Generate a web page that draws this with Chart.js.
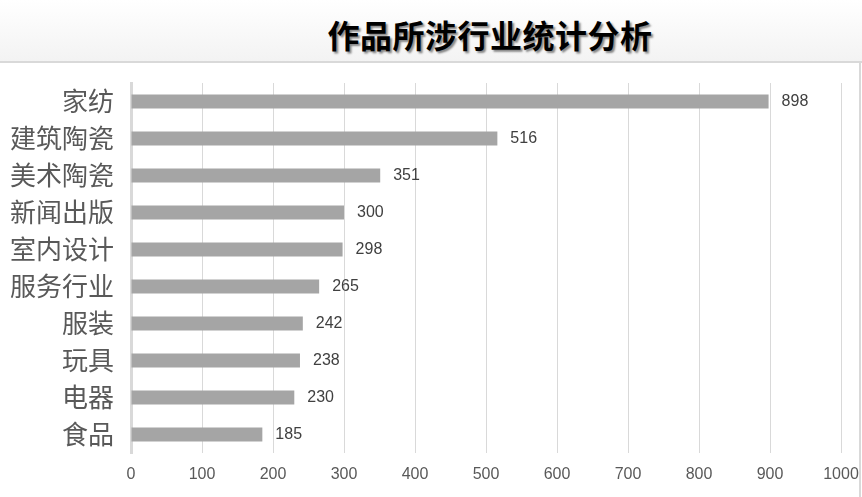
<!DOCTYPE html>
<html>
<head>
<meta charset="utf-8">
<script src="https://cdn.jsdelivr.net/npm/chart.js@4/dist/chart.umd.min.js"></script>
<style>
  html, body { margin: 0; padding: 0; background: #fff; }
  #wrap { position: relative; width: 862px; height: 497px; overflow: hidden; }
  #head {
    position: absolute; left: 0; top: 0; width: 862px; height: 61px;
    background: linear-gradient(#ffffff, #f3f3f3);
    border-bottom: 2px solid #d9d9d9;
  }
  #head h1 {
    margin: 0; position: absolute; left: 322px; top: 10px; width: 336px;
    font: 700 32px "Noto Sans CJK SC", sans-serif; color: #000;
    text-align: center; line-height: 48px; letter-spacing: 0.5px;
    text-shadow: 2px 2px 2px rgba(0,0,0,0.45);
  }
  #side { position: absolute; left: 859px; top: 62px; width: 2px; height: 435px; background: #d9d9d9; }
  #box { position: absolute; left: 0; top: 63px; width: 862px; height: 434px; }
</style>
</head>
<body>
<div id="wrap">
  <div id="head"><h1>作品所涉行业统计分析</h1></div>
  <div id="side"></div>
  <div id="box"><canvas id="chart"></canvas></div>
</div>
<script>
  let categories = ['家纺', '建筑陶瓷', '美术陶瓷', '新闻出版', '室内设计', '服务行业', '服装', '玩具', '电器', '食品'];
  let counts = [898, 516, 351, 300, 298, 265, 242, 238, 230, 185];
  let xTicks = [0, 100, 200, 300, 400, 500, 600, 700, 800, 900, 1000];

  // value labels at the end of each bar
  let valueLabels = {
    id: 'valueLabels',
    afterDatasetsDraw(chart) {
      let ctx = chart.ctx;
      let meta = chart.getDatasetMeta(0);
      ctx.save();
      ctx.font = '16px "Liberation Sans", Arial, sans-serif';
      ctx.fillStyle = '#404040';
      ctx.textAlign = 'left';
      ctx.textBaseline = 'middle';
      meta.data.forEach((bar, i) => {
        ctx.fillText(String(counts[i]), bar.x + 13, bar.y);
      });
      ctx.restore();
    }
  };

  let context = document.getElementById('chart');
  let chart = new Chart(context, {
    type: 'bar',
    data: {
      labels: categories,
      datasets: [{
        data: counts,
        backgroundColor: '#a5a5a5',
        borderWidth: 0,
        barPercentage: 0.38,
        categoryPercentage: 1.0,
      }],
    },
    options: {
      indexAxis: 'y',
      responsive: true,
      maintainAspectRatio: false,
      animation: false,
      layout: { padding: { top: 20, right: 21, bottom: 0, left: 0 } },
      plugins: {
        legend: { display: false },
        tooltip: { enabled: false },
      },
      scales: {
        x: {
          min: 0,
          max: 1000,
          afterBuildTicks(scale) {
            scale.ticks = xTicks.map(v => ({ value: v }));
          },
          afterFit(scale) {
            scale.height = 44;
            scale.paddingLeft = 0;
            scale.paddingRight = 0;
          },
          grid: { color: '#d9d9d9', lineWidth: 1, drawTicks: false },
          border: { display: false },
          ticks: {
            padding: 12,
            color: '#595959',
            font: { family: '"Liberation Sans", Arial, sans-serif', size: 16 },
            callback: v => String(v),
          },
        },
        y: {
          afterFit(scale) {
            scale.width = 131;
            scale.paddingTop = 0;
            scale.paddingBottom = 0;
          },
          grid: { display: false, drawTicks: false },
          border: { display: true, color: '#d9d9d9', width: 3 },
          ticks: {
            padding: 17,
            color: '#595959',
            font: { family: '"Noto Sans CJK SC", sans-serif', size: 26 },
          },
        },
      },
    },
    plugins: [valueLabels],
  });
</script>
</body>
</html>
